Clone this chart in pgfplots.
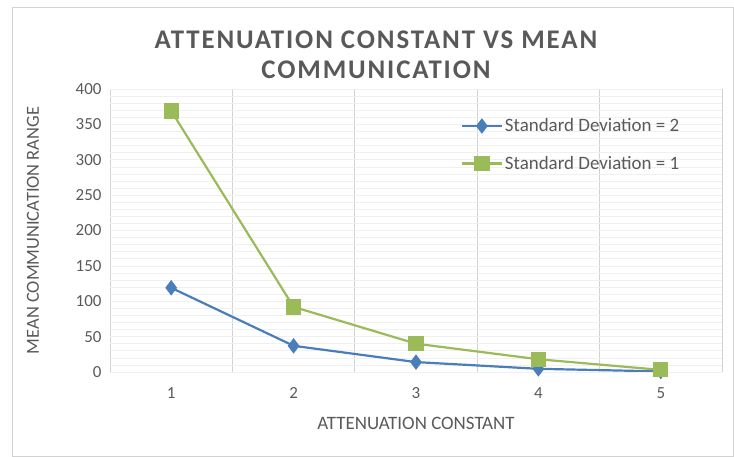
\documentclass[border=0pt]{standalone}
\usepackage{pgfplots}
\pgfplotsset{compat=1.18}
\usepackage{fontspec}
\setmainfont{Carlito}
\newfontfamily\titlefont[LetterSpace=7]{Carlito}
\definecolor{txt}{HTML}{595959}
\definecolor{sblue}{HTML}{4A7EBB}
\definecolor{sgreen}{HTML}{9BBB59}
\begin{document}
\begin{tikzpicture}[x=1bp,y=1bp]
\path[use as bounding box] (-110,-85) rectangle (624,372);
\draw[gray!35, line width=0.8bp] (-98,-84) rectangle (623,365);
\begin{axis}[
  at={(0,0)}, anchor=south west,
  scale only axis, width=612bp, height=283bp,
  xmin=0.5, xmax=5.5, ymin=0, ymax=400,
  xtick={1,2,3,4,5},
  minor xtick={0.5,1.5,2.5,3.5,4.5,5.5},
  ytick={0,50,...,400},
  minor ytick={0,10,...,400},
  xminorgrids, yminorgrids, ymajorgrids,
  minor x grid style={gray!35, line width=0.8bp},
  minor y grid style={gray!12, line width=0.6bp},
  major y grid style={gray!12, line width=0.6bp},
  axis line style={draw=none},
  extra y ticks={0}, extra y tick labels={},
  extra y tick style={grid=major, major grid style={gray!40, line width=0.8bp}},
  tick style={draw=none},
  ticklabel style={font=\fontsize{17}{19}\selectfont, text=txt},
  /pgf/number format/assume math mode=true,
  xticklabel style={yshift=-12bp},
  yticklabel style={xshift=-5bp},
  xlabel={ATTENUATION CONSTANT},
  ylabel={MEAN COMMUNICATION RANGE},
  xlabel style={font=\fontsize{19}{21}\selectfont, text=txt, yshift=-12bp},
  ylabel style={font=\fontsize{18.5}{20}\selectfont, text=txt, yshift=30bp},
  legend style={draw=none, fill=none, at={(0.568,0.91)}, anchor=north west,
    font=\fontsize{19}{21}\selectfont, text=txt, row sep=19bp,
    /tikz/every even column/.append style={column sep=2bp}},
  legend cell align=left,
  legend image code/.code={
    \draw[#1, mark repeat=2, mark phase=2] plot coordinates {(0bp,0bp) (20bp,0bp) (40bp,0bp)};
  },
]
\addplot[sblue, line width=2.2bp, mark=diamond*, mark size=6bp, mark options={solid, fill=sblue, draw=sblue}]
  coordinates {(1,119) (2,37) (3,14) (4,4.5) (5,0.8)};
\addlegendentry{Standard Deviation = 2}
\addplot[sgreen, line width=2.2bp, mark=square*, mark size=6.5bp, mark options={solid, fill=sgreen, draw=sgreen}]
  coordinates {(1,369) (2,92) (3,40) (4,18) (5,3)};
\addlegendentry{Standard Deviation = 1}
\end{axis}
\node[font=\titlefont\bfseries\fontsize{27}{30}\selectfont, text=txt, align=center, anchor=center]
  at (266,317) {ATTENUATION CONSTANT VS MEAN\\COMMUNICATION};
\end{tikzpicture}
\end{document}
